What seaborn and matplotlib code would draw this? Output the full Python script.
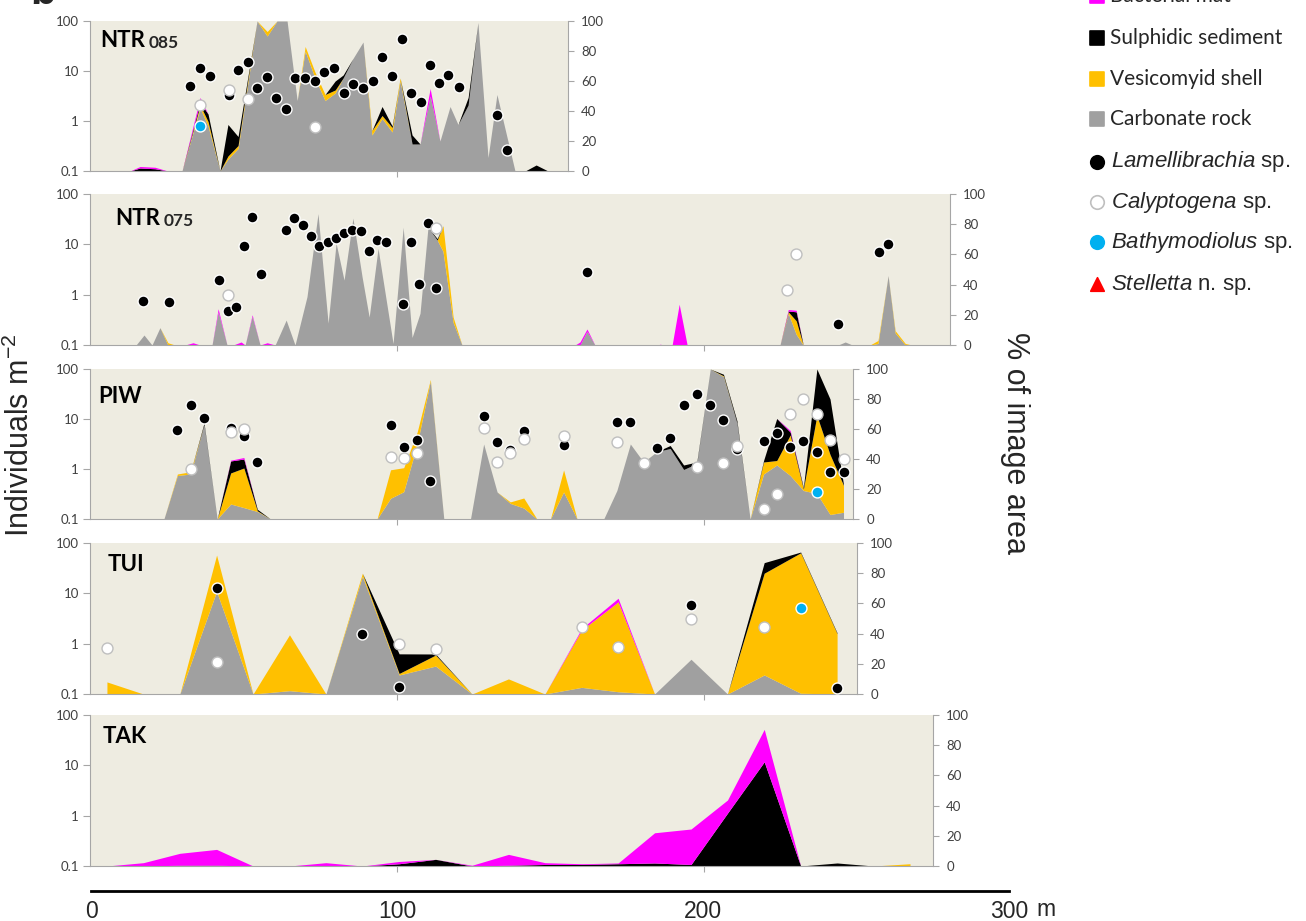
import matplotlib
matplotlib.use('Agg')
import matplotlib.pyplot as plt
from matplotlib.ticker import NullLocator
import seaborn as sns

sns.set_style('white')
plt.rcParams['font.family'] = ['Lato', 'DejaVu Sans']
plt.rcParams['mathtext.fontset'] = 'custom'
plt.rcParams['mathtext.rm'] = 'Liberation Sans'
plt.rcParams['mathtext.it'] = 'Liberation Sans:italic'

MAT = '#FF00FF'
SED = '#000000'
SHELL = '#FFC000'
ROCK = '#A0A0A0'
BLUE = '#00B0F0'
BG = '#EEECE1'
AXC = '#A6A6A6'
TXT = '#404040'

# ---------------- NTR 085 ----------------
ntr085_dist = [0, 12.7, 16.0, 20.9, 25.1, 29.7, 35.6, 38.2, 42.1, 44.7, 48.0, 51.3, 54.2, 57.5,
               60.7, 64.0, 67.3, 69.9, 73.1, 76.4, 79.7, 82.3, 85.5, 88.8, 91.7, 95.0, 98.3, 100.9,
               104.8, 107.4, 110.7, 113.9, 117.2, 119.8, 123.1, 126.3, 129.6, 132.5, 138.4, 141.7,
               145.3, 149.2]
ntr085_rock = [0, 0, 0, 0, 0, 0, 42, 30, 0, 8, 15, 60, 100, 90, 100, 100, 47, 80, 62, 47, 52, 62,
               75, 86, 24, 35, 26, 60, 18, 18, 50, 20, 43, 31, 44, 99, 9, 51, 0, 0, 0, 0]
ntr085_shell = [0, 0, 0, 0, 0, 0, 2, 3, 0, 2, 2, 2, 0, 3, 0, 0, 0, 3, 4, 4, 2, 0, 0, 0, 3, 2, 3, 2,
                0, 0, 0, 0, 0, 0, 0, 0, 0, 0, 0, 0, 0, 0]
ntr085_sed = [0, 0, 2, 1.5, 0, 0, 2, 5, 0, 21, 6, 2, 0, 0, 0, 0, 0, 0, 0, 0, 6, 2, 0, 0, 0, 6, 1, 0,
              6, 0, 0, 0, 0, 0, 5, 0, 0, 0, 0, 0, 4, 0]
ntr085_mat = [0, 0, 1, 1, 0, 0, 3, 0, 0, 0, 0, 0, 0, 0, 0, 0, 0, 0, 0, 0, 0, 0, 0, 0, 0, 0, 0, 0,
              0, 0, 5, 0, 0, 0, 0, 0, 0, 0, 0, 0, 0, 0]
ntr085_lam_x = [32.3, 35.6, 38.9, 45.1, 48.0, 51.3, 54.2, 57.5, 60.4, 63.7, 66.6, 69.9, 73.1, 76.1,
                79.3, 82.6, 85.5, 88.8, 92.1, 95.0, 98.3, 101.5, 104.5, 107.7, 110.7, 113.6, 116.6,
                120.1, 132.5, 135.8]
ntr085_lam_y = [4.9, 11.3, 7.9, 3.3, 10.5, 14.9, 4.5, 7.7, 2.9, 1.74, 7.3, 7.3, 6.3, 9.7, 11.6, 3.6,
                5.5, 4.5, 6.4, 18.8, 8.1, 43.6, 3.7, 2.4, 13.2, 5.7, 8.3, 4.85, 1.32, 0.26]
ntr085_cal_x = [35.6, 45.1, 51.3, 73.1]
ntr085_cal_y = [2.1, 4.2, 2.8, 0.77]
ntr085_bat_x = [35.6]
ntr085_bat_y = [0.8]

# ---------------- NTR 075 ----------------
ntr075_dist = [0, 14.7, 17.3, 19.9, 22.5, 25.1, 27.4, 30.7, 33.3, 35.6,
               39.5, 41.5, 44.4, 46.4, 49.0, 50.3, 52.6, 55.2, 57.5, 60.1,
               63.7, 66.6, 70.5, 74.1, 77.4, 80.0, 82.6, 85.5, 88.5, 90.8,
               93.7, 98.6, 101.9, 104.8, 107.4, 110.0, 113.0, 114.9, 118.2, 121.1,
               158.0, 159.6, 161.9, 164.5, 184.8, 185.8, 187.1, 189.7, 192.0, 194.6,
               224.9, 227.6, 230.2, 232.5, 243.9, 246.2, 248.5, 254.3, 256.9, 260.2,
               262.5, 265.8, 268.0]
ntr075_rock = [0, 0, 6.6, 0, 11.5, 0, 0, 0, 0, 0,
               0, 22, 0, 0, 0, 0, 19, 0, 0, 0,
               16.5, 0, 32, 87, 14.5, 67.5, 43, 84, 45, 18.5,
               64, 1, 78, 5, 21, 78, 69.5, 62, 15, 0,
               0, 0, 9, 0, 0, 0, 0, 0, 0, 0,
               0, 21, 7, 0, 0, 2, 0, 0, 1, 46,
               8, 0, 0]
ntr075_shell = [0, 0, 0, 0, 0, 1.5, 0, 0, 0, 0,
                0, 0, 0, 0, 0, 0, 0, 0, 0, 0,
                0, 0, 0, 0, 0, 0, 0, 0, 0, 0,
                0, 0, 0, 0, 0, 0, 0, 17, 3.5, 0,
                0, 0, 0, 0, 0, 0, 0, 0, 0, 0,
                0, 1, 9, 0, 0, 0, 0, 0, 2, 0,
                1.5, 1, 0]
ntr075_sed = [0, 0, 0, 0, 0, 0, 0, 0, 0, 0,
              0, 0, 0, 0, 0, 0, 0, 0, 0, 0,
              0, 0, 0, 0, 0, 0, 0, 0, 0, 0,
              0, 0, 0, 0, 0, 0, 1, 0, 0, 0,
              0, 0, 0, 0, 0, 0, 0, 0, 0, 0,
              0, 0.5, 6, 0, 0, 0, 0, 0, 0, 0,
              0, 0, 0]
ntr075_mat = [0, 0, 0, 0, 0, 0, 0, 0, 1.5, 0,
              0, 2, 0, 0, 2, 0, 1, 0, 1.5, 0,
              0, 0, 0, 0, 0, 0, 0, 0, 0, 0,
              0, 0, 0, 0, 0, 0, 0, 0, 0, 0,
              0, 2, 1.6, 0, 0, 0.5, 0, 0, 27, 0,
              0, 1, 1, 0, 0, 0, 0, 0, 0, 0,
              0, 0, 0]
ntr075_lam_x = [17.1, 25.5, 41.8, 44.6, 47.2, 50.0, 52.7, 55.4, 63.6, 66.3, 69.1, 71.8, 74.5, 77.3,
                80.0, 82.6, 85.3, 88.0, 90.8, 93.5, 96.2, 101.8, 104.5, 107.2, 109.9, 112.6, 161.8,
                243.7, 257.3, 260.1]
ntr075_lam_y = [0.76, 0.71, 2.0, 0.48, 0.56, 9.4, 34.6, 2.6, 19.3, 33, 24.3, 14.7, 9.4, 11.3, 13.2,
                16.6, 19.3, 18, 7.5, 12.2, 11.3, 0.65, 11, 1.63, 26.4, 1.38, 2.8, 0.26, 7.0, 10]
ntr075_cal_x = [44.6, 112.6, 227.3, 230.0]
ntr075_cal_y = [1.0, 21.5, 1.24, 6.4]

# ---------------- PIW ----------------
piw_dist = [0, 23.8, 28.2, 32.5, 36.9, 41.2, 45.6, 49.9, 54.3, 58.6,
            93.4, 97.8, 102.1, 106.5, 110.8, 115.2, 123.9, 128.2, 132.6, 136.9,
            141.3, 145.6, 150.0, 154.3, 158.7, 167.4, 171.7, 176.1, 180.4, 184.8,
            189.1, 193.5, 197.8, 202.2, 206.5, 210.9, 215.2, 219.6, 223.9, 228.3,
            232.6, 237.0, 241.3, 245.7]
piw_rock = [0, 0, 29, 30, 63, 0, 10, 7.6, 5, 0,
            0, 13.8, 18.2, 50, 92, 0, 0, 50, 18, 10.4,
            7.3, 0, 0, 18, 0, 0, 19, 50, 38, 45,
            47, 33, 37, 100, 95, 64, 0, 30, 36, 29,
            19, 17, 3, 4.5]
piw_shell = [0, 0, 1, 1.5, 0, 0, 20.7, 26.4, 0.5, 0,
             0, 19, 16, 8, 1, 0, 0, 0, 0, 1,
             6.7, 0, 0, 14.7, 0, 0, 0, 0, 0, 0,
             0, 0, 0, 0, 0.5, 0, 0, 8, 3, 27,
             1, 52, 40, 18]
piw_sed = [0, 0, 0, 0, 1, 0, 8, 6, 1, 0,
           0, 0, 0, 0, 0, 0, 0, 0, 0, 0,
           0, 0, 0, 0, 0, 0, 0, 0, 0, 0,
           2, 3, 1, 0, 1, 1.5, 0, 1, 28, 2,
           1, 31, 37, 0.5]
piw_mat = [0, 0, 0, 0, 0, 0, 0.5, 1, 0, 0,
           0, 0, 0, 0, 0, 0, 0, 0, 0, 0,
           0, 0, 0, 0, 0, 0, 0, 0, 0, 0,
           0, 0, 0, 0, 0, 0, 0, 0, 0, 1,
           0, 0, 0, 0]
piw_lam_x = [28.2, 32.5, 36.9, 45.6, 49.9, 54.3, 97.8, 102.1, 106.5, 110.8, 128.2, 132.6, 136.9,
             141.3, 154.3, 171.7, 176.1, 184.8, 189.1, 193.5, 197.8, 202.2, 206.5, 210.9, 219.6,
             223.9, 228.3, 232.6, 237.0, 241.3, 245.7]
piw_lam_y = [6.0, 19, 10.3, 6.7, 4.6, 1.4, 7.6, 2.7, 3.8, 0.58, 11.5, 3.5, 2.4, 5.75, 3.0, 8.8, 8.8,
             2.6, 4.1, 19, 31, 19, 9.5, 2.5, 3.6, 5.3, 2.8, 3.6, 2.2, 0.88, 0.86]
piw_cal_x = [32.5, 45.6, 49.9, 97.8, 102.1, 106.5, 128.2, 132.6, 136.9, 141.3, 154.3, 171.7, 180.4,
             197.8, 206.5, 210.9, 219.6, 223.9, 228.3, 232.6, 237.0, 241.3, 245.7]
piw_cal_y = [0.99, 5.6, 6.3, 1.7, 1.65, 2.06, 6.5, 1.4, 2.06, 4.0, 4.6, 3.4, 1.3, 1.1, 1.3, 2.9,
             0.156, 0.31, 12.6, 24.8, 12.6, 3.8, 1.6]
piw_bat_x = [237.0]
piw_bat_y = [0.35]

# ---------------- TUI ----------------
tui_dist = [5.2, 17.1, 29.0, 41.0, 52.9, 64.8, 76.7, 88.6, 100.6, 112.5, 124.4, 136.3, 148.2,
            160.2, 172.1, 184.0, 195.9, 207.8, 219.8, 231.7, 243.6]
tui_rock = [0, 0, 0, 68, 0, 2.2, 0, 78, 12.6, 18.5, 0, 0, 0, 4.4, 1.5, 0, 23, 0, 12.6, 0.5, 0]
tui_shell = [8, 0, 0, 24, 0, 37, 0, 2, 1, 7.3, 0, 10, 0, 38, 59.5, 0, 0, 0, 67.4, 93, 40]
tui_sed = [0, 0, 0, 0, 0, 0, 0, 0, 13, 0.7, 0, 0, 0, 0, 0, 0, 0, 0, 7, 0.5, 0.5]
tui_mat = [0, 0, 0, 0, 0, 0, 0, 0, 0, 0, 0, 0, 0, 1, 2.4, 0, 0, 0, 0, 0, 0]
tui_lam_x = [41.0, 88.6, 100.6, 195.9, 243.6]
tui_lam_y = [12.6, 1.54, 0.136, 5.9, 0.13]
tui_cal_x = [5.2, 41.0, 100.6, 112.5, 160.2, 172.1, 195.9, 219.8]
tui_cal_y = [0.81, 0.44, 0.97, 0.79, 2.1, 0.87, 3.1, 2.1]
tui_bat_x = [231.7]
tui_bat_y = [5.2]

# ---------------- TAK ----------------
tak_dist = [5.2, 17.1, 29.0, 41.0, 52.9, 64.8, 76.7, 88.6, 100.6, 112.5, 124.4, 136.3, 148.2,
            160.2, 172.1, 184.0, 195.9, 207.8, 219.8, 231.7, 243.6, 255.5, 267.4]
tak_rock = [0] * 23
tak_shell = [0, 0, 0, 0, 0, 0, 0, 0, 0, 0, 0, 0, 0, 0, 0, 0, 0, 0, 0, 0, 0, 0, 1.5]
tak_sed = [0, 0, 0.5, 0.5, 0, 0, 0, 0, 1.5, 4.4, 0, 0.5, 1, 1, 1.5, 2, 1, 35, 69, 0, 2, 0, 0]
tak_mat = [0, 2.2, 7.9, 10.5, 0, 0, 2.2, 0, 1.5, 0, 0.5, 7.2, 1.2, 0.5, 0.5, 20, 23.5, 8.7, 21.5,
           0, 0, 0, 0]

W, H = 1306, 921
fig = plt.figure(figsize=(W / 100, H / 100), dpi=100)


def px_rect(x0, y0, x1, y1):
    return [x0 / W, 1 - y1 / H, (x1 - x0) / W, (y1 - y0) / H]


def draw_panel(box, xmax, dist, rock, shell, sed, mat, points, name, sub, lab):
    ax = fig.add_axes(px_rect(*box))
    ax.set_facecolor(BG)
    ax.stackplot(dist, rock, shell, sed, mat, colors=[ROCK, SHELL, SED, MAT], linewidth=0)
    ax.set_xlim(-0.33, xmax)
    ax.set_ylim(0, 100)
    ax2 = ax.twinx()
    ax.yaxis.tick_right()
    ax.set_yticks(range(0, 101, 20))
    ax.set_xticks([t for t in (100, 200) if t < xmax])
    ax.set_xticklabels([])
    ax.tick_params(axis='y', right=True, left=False, direction='out', length=4.5, width=0.8,
                   color=AXC, labelsize=9.5, labelcolor=TXT, pad=5)
    ax.tick_params(axis='x', bottom=True, direction='out', length=4, width=0.8, color=AXC)
    for s in ['top', 'left']:
        ax.spines[s].set_visible(False)
    for s in ['right', 'bottom']:
        ax.spines[s].set_color(AXC)
        ax.spines[s].set_linewidth(0.8)

    ax2.set_yscale('log')
    ax2.set_ylim(0.1, 100)
    ax2.yaxis.tick_left()
    ax2.set_yticks([0.1, 1, 10, 100], ['0.1', '1', '10', '100'])
    ax2.yaxis.set_minor_locator(NullLocator())
    ax2.tick_params(axis='y', left=True, right=False, labelleft=True, labelright=False,
                    direction='out', length=5, width=0.8, color=AXC, labelsize=9.5,
                    labelcolor=TXT, pad=3)
    for s in ['top', 'right', 'bottom']:
        ax2.spines[s].set_visible(False)
    ax2.spines['left'].set_color(AXC)
    ax2.spines['left'].set_linewidth(0.8)

    for xs, ys, fc, ec in points:
        sns.scatterplot(x=xs, y=ys, ax=ax2, color=fc, edgecolor=ec, s=62, linewidth=1.0,
                        zorder=3, legend=False, clip_on=False)

    t = ax2.text(lab[0], lab[1], name, transform=ax2.transAxes, fontsize=16,
                 fontweight='bold', ha='left', va='baseline', color='black')
    if sub:
        ax2.annotate(sub, xy=(1, 0), xycoords=t, xytext=(3, 0), textcoords='offset points',
                     fontsize=12.5, fontweight='bold', va='bottom', ha='left')
    return ax


draw_panel((90, 21, 568, 171), 155.7, ntr085_dist, ntr085_rock, ntr085_shell, ntr085_sed,
           ntr085_mat,
           [(ntr085_lam_x, ntr085_lam_y, 'black', 'white'),
            (ntr085_cal_x, ntr085_cal_y, 'white', '#BFBFBF'),
            (ntr085_bat_x, ntr085_bat_y, BLUE, 'white')],
           'NTR', '085', (0.021, 0.827))
draw_panel((90, 194, 950, 345), 280.4, ntr075_dist, ntr075_rock, ntr075_shell, ntr075_sed,
           ntr075_mat,
           [(ntr075_lam_x, ntr075_lam_y, 'black', 'white'),
            (ntr075_cal_x, ntr075_cal_y, 'white', '#BFBFBF')],
           'NTR', '075', (0.029, 0.795))
draw_panel((90, 369, 853, 519), 248.8, piw_dist, piw_rock, piw_shell, piw_sed, piw_mat,
           [(piw_lam_x, piw_lam_y, 'black', 'white'),
            (piw_cal_x, piw_cal_y, 'white', '#BFBFBF'),
            (piw_bat_x, piw_bat_y, BLUE, 'white')],
           'PIW', None, (0.0105, 0.773))
draw_panel((90, 543, 857, 694), 250.1, tui_dist, tui_rock, tui_shell, tui_sed, tui_mat,
           [(tui_lam_x, tui_lam_y, 'black', 'white'),
            (tui_cal_x, tui_cal_y, 'white', '#BFBFBF'),
            (tui_bat_x, tui_bat_y, BLUE, 'white')],
           'TUI', None, (0.0235, 0.815))
draw_panel((90, 715, 933, 866), 274.9, tak_dist, tak_rock, tak_shell, tak_sed, tak_mat,
           [], 'TAK', None, (0.015, 0.815))

# distance axis along the bottom
bx = fig.add_axes(px_rect(91, 890, 1009, 891))
bx.set_xlim(0, 300)
bx.set_ylim(0, 1)
bx.patch.set_visible(False)
bx.set_yticks([])
bx.set_xticks([0, 100, 200, 300], ['0', '100', '200', '300'])
for s in ['top', 'left', 'right']:
    bx.spines[s].set_visible(False)
bx.spines['bottom'].set_color('black')
bx.spines['bottom'].set_linewidth(2)
bx.tick_params(axis='x', direction='inout', length=6, width=1.5, color='black', labelsize=16.5,
               pad=3.5)
for lbl in bx.get_xticklabels():
    lbl.set_fontfamily('Liberation Sans')

# overlay in pixel units for labels and legend
lax = fig.add_axes([0, 0, 1, 1])
lax.set_xlim(0, W)
lax.set_ylim(H, 0)
lax.axis('off')
lax.patch.set_visible(False)

lax.text(1036, 909, 'm', fontsize=16.5, family='Liberation Sans', ha='left', va='center')
lax.text(20, 435, 'Individuals m$^{-2}$', rotation=90, fontsize=22, family='Liberation Sans',
         ha='center', va='center')
lax.text(1015, 443, '% of image area', rotation=270, fontsize=22, family='Liberation Sans',
         ha='center', va='center')
lax.text(30, 4, 'b', fontsize=30, fontweight='bold', family='Liberation Sans', ha='left',
         va='baseline')

leg_labels = ['Bacterial mat', 'Sulphidic sediment', 'Vesicomyid shell', 'Carbonate rock',
              r'$\mathit{Lamellibrachia}$ sp.', r'$\mathit{Calyptogena}$ sp.',
              r'$\mathit{Bathymodiolus}$ sp.', r'$\mathit{Stelletta}$ n. sp.']
leg_marker = ['s', 's', 's', 's', 'o', 'o', 'o', '^']
leg_face = [MAT, SED, SHELL, ROCK, 'black', 'white', BLUE, '#FF0000']
leg_edge = [MAT, SED, SHELL, ROCK, 'black', '#BFBFBF', BLUE, '#FF0000']
leg_y = [-4, 38, 79, 119, 162, 202, 242, 284]

for lab, mk, fc, ec, yy in zip(leg_labels, leg_marker, leg_face, leg_edge, leg_y):
    lax.scatter([1097], [yy], marker=mk, s=95, color=fc, edgecolor=ec, linewidth=1.2,
                clip_on=False)
    if mk == 's':
        lax.text(1110, yy, lab, fontsize=15, family=['Lato', 'DejaVu Sans'], ha='left',
                 va='center')
    else:
        lax.text(1111, yy, lab, fontsize=16, family='Liberation Sans', ha='left', va='center')

fig.savefig('out.png', dpi=100)
